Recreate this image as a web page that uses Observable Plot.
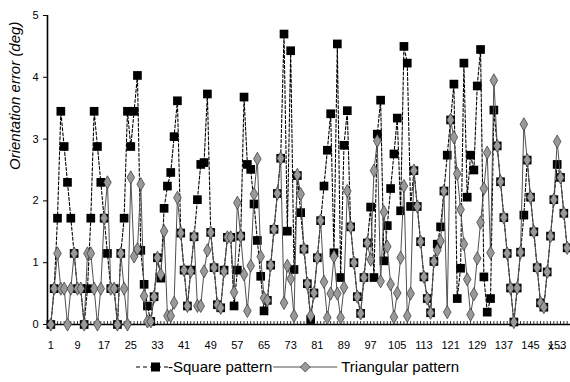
<!DOCTYPE html>
<html>
<head>
<meta charset="utf-8">
<script src="https://cdn.jsdelivr.net/npm/d3@7"></script>
<script src="https://cdn.jsdelivr.net/npm/@observablehq/plot@0.6"></script>
<style>
  html, body { margin: 0; padding: 0; background: #fff; }
  body { width: 570px; height: 382px; overflow: hidden; font-family: "Liberation Sans Narrow", "Liberation Sans", Arial, sans-serif; }
  #chart svg { display: block; }
  #legend { display: block; }
</style>
</head>
<body>
<div id="chart"></div>
<div id="legend"></div>
<script>
// ---- data ----
const squarePattern = [
  0, 0.58, 1.72, 3.45, 2.88, 2.3, 1.72, 1.15, 0.58, 0.58,
  0, 0.58, 1.72, 3.45, 2.88, 2.3, 1.72, 1.15, 0.58, 0.58,
  0, 1.15, 1.72, 3.45, 2.88, 3.45, 4.03, 1.2, 0.65, 0.3,
  0.05, 0.45, 1.08, 0.75, 1.88, 2.24, 2.46, 3.04, 3.62, 1.48,
  0.88, 0.3, 0.88, 1.42, 2.02, 2.59, 2.62, 3.73, 1.49, 0.92,
  0.32, 0.27, 0.88, 1.41, 1.41, 0.3, 0.88, 1.43, 3.68, 2.59,
  2.51, 1.95, 1.36, 0.78, 0.22, 0.39, 0.96, 1.54, 2.12, 2.69,
  4.7, 1.51, 4.43, 0.89, 2.41, 1.81, 1.22, 0.66, 0.08, 0.51,
  1.08, 1.68, 2.24, 2.82, 3.41, 1.16, 4.54, 0.76, 2.9, 3.46,
  1.58, 1.0, 0.45, 0.18, 0.76, 1.32, 1.9, 0.76, 3.08, 3.63,
  1.03, 1.6, 2.2, 2.76, 3.34, 1.84, 4.5, 4.23, 1.91, 2.49,
  1.91, 1.34, 0.77, 0.42, 0.19, 1.02, 1.3, 1.58, 2.16, 2.74,
  3.31, 3.89, 0.42, 0.91, 4.23, 2.06, 2.74, 2.5, 3.86, 4.45,
  0.77, 0.2, 0.42, 3.47, 2.89, 2.31, 1.73, 1.15, 0.59, 0.04,
  0.59, 1.17, 1.77, 2.66, 2.06, 1.5, 0.92, 0.35, 0.28, 0.85,
  1.43, 2.02, 2.59, 2.38, 1.8, 1.24
];
const triangularPattern = [
  0, 0.58, 1.15, 0.58, 0.58, 0, 0.58, 1.15, 0.58, 0.58,
  0, 1.15, 1.15, 0.58, 0, 0.58, 1.72, 2.3, 0.58, 0.58,
  0, 1.15, 0.58, 0, 2.38, 1.1, 1.22, 2.27, 0.46, 0.05,
  0.05, 0.45, 1.08, 0.81, 1.51, 0.14, 0.14, 0.35, 2.05, 1.48,
  0.88, 0.3, 0.86, 1.42, 0.3, 0.3, 0.86, 1.2, 1.49, 0.92,
  0.32, 0.27, 0.86, 1.41, 1.41, 0.52, 1.97, 1.43, 0.81, 0.22,
  0.95, 2.11, 2.68, 1.1, 0.43, 0.39, 0.96, 1.54, 2.12, 2.69,
  0.35, 0.95, 0.74, 0.14, 2.42, 2.11, 1.22, 0.66, 0.14, 0.51,
  1.08, 1.68, 0.69, 0.11, 0.5, 1.1, 0.5, 0.11, 0.6, 2.16,
  1.58, 1.0, 0.45, 0.18, 0.76, 1.32, 1.05, 2.49, 2.97, 0.7,
  1.82, 1.26, 0.65, 0.12, 0.51, 1.08, 2.24, 0.14, 0.5, 2.49,
  1.91, 1.34, 0.77, 0.42, 0.19, 1.02, 1.2, 1.35, 2.16, 0.2,
  3.31, 3.03, 2.44, 1.86, 1.3, 0.73, 0.16, 0.49, 1.07, 1.65,
  2.2, 2.78, 1.16, 3.95, 2.89, 2.31, 1.73, 1.15, 0.59, 0.04,
  0.59, 1.17, 3.24, 2.66, 2.06, 1.5, 0.92, 0.35, 0.28, 0.85,
  1.43, 2.02, 2.96, 2.38, 1.8, 1.24
];
const xTickLabels = [1, 9, 17, 25, 33, 41, 49, 57, 65, 73, 81, 89, 97, 105, 113, 121, 129, 137, 145, 153];
const yTickLabels = [0, 1, 2, 3, 4, 5];
const seriesNames = ["Square pattern", "Triangular pattern"];
const yTitle = "Orientation error (deg)";

// ---- tables built from the arrays ----
const sq = squarePattern.map((v, i) => ({x: i + 1, y: v}));
const tr = triangularPattern.map((v, i) => ({x: i + 1, y: v}));
const nPoints = Math.max(squarePattern.length, triangularPattern.length);
const minorTicks = d3.range(1, nPoints + 2);

const font = '"Liberation Sans Narrow", "Liberation Sans", Arial, sans-serif';

const chart = Plot.plot({
  width: 570,
  height: 352,
  marginLeft: 47,
  marginRight: 0,
  marginTop: 15,
  marginBottom: 28,
  style: {fontFamily: font, fontSize: "11px", color: "#000", background: "#fff"},
  x: {domain: [0, nPoints + 1]},
  y: {domain: [0, 5]},
  marks: [
    Plot.axisX({ticks: minorTicks, tickSize: -3, tickFormat: () => "", stroke: "#000", strokeWidth: 0.8}),
    Plot.axisX({ticks: xTickLabels, tickSize: 0, tickPadding: 17, label: null, fontSize: 11, tickFormat: d3.format("d")}),
    Plot.axisY({ticks: yTickLabels, tickSize: 4, tickPadding: 5, label: null, fontSize: 11, tickFormat: d3.format("d")}),
    Plot.ruleX([0], {stroke: "#000", strokeWidth: 1.6}),
    Plot.ruleY([0], {stroke: "#000", strokeWidth: 1.6}),
    Plot.text([yTitle], {frameAnchor: "left", rotate: -90, dx: -32, fontStyle: "italic", fontSize: 15}),
    Plot.line(sq, {x: "x", y: "y", stroke: "#000", strokeWidth: 1.1, strokeDasharray: "3,2"}),
    Plot.dot(sq, {x: "x", y: "y", symbol: "square", fill: "#000", r: 4.9}),
    Plot.line(tr, {x: "x", y: "y", stroke: "#505050", strokeWidth: 1}),
    Plot.dot(tr, {x: "x", y: "y", symbol: "diamond", fill: "#999", stroke: "#333", strokeWidth: 0.7, r: 4})
  ]
});
document.getElementById("chart").appendChild(chart);

// ---- legend (below the svg) ----
const lg = d3.select("#legend").append("svg")
  .attr("width", 570).attr("height", 30)
  .style("font-family", font).style("font-size", "15px");
const ly = 15;
lg.append("line").attr("x1", 136).attr("x2", 168).attr("y1", ly).attr("y2", ly)
  .attr("stroke", "#000").attr("stroke-width", 1.1).attr("stroke-dasharray", "4,3");
lg.append("rect").attr("x", 151).attr("y", ly - 4.5).attr("width", 9).attr("height", 9).attr("fill", "#000");
const t1 = lg.append("text").attr("x", 168).attr("y", ly + 5).text("-" + seriesNames[0]);
const e1 = 168 + t1.node().getComputedTextLength() + 1;
lg.append("line").attr("x1", e1).attr("x2", e1 + 64).attr("y1", ly).attr("y2", ly)
  .attr("stroke", "#505050").attr("stroke-width", 1);
const dx = e1 + 32;
lg.append("path").attr("d", `M${dx},${ly - 5}L${dx + 5},${ly}L${dx},${ly + 5}L${dx - 5},${ly}Z`)
  .attr("fill", "#999").attr("stroke", "#333").attr("stroke-width", 0.7);
lg.append("text").attr("x", e1 + 68).attr("y", ly + 5).text(seriesNames[1]);
</script>
</body>
</html>
